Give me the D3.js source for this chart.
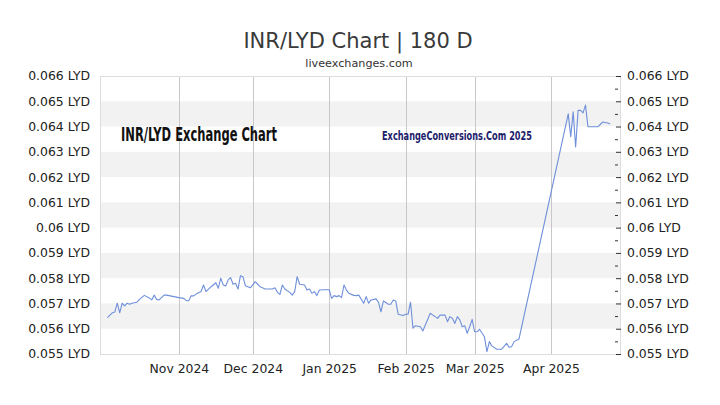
<!DOCTYPE html>
<html>
<head>
<meta charset="utf-8">
<script src="https://cdn.jsdelivr.net/npm/d3@7"></script>
<style>
    body { margin: 0; background: #fff; }
    svg { display: block; font-family: "DejaVu Sans", Verdana, sans-serif; }
</style>
</head>
<body>
<svg id="chart" width="720" height="405"></svg>
<script>
// INR/LYD daily rates
const dates = [
    "2024-10-03", "2024-10-05", "2024-10-06", "2024-10-07", "2024-10-08", "2024-10-09", "2024-10-10", "2024-10-11",
    "2024-10-12", "2024-10-13", "2024-10-15", "2024-10-16", "2024-10-18", "2024-10-20", "2024-10-21", "2024-10-22",
    "2024-10-23", "2024-10-24", "2024-10-26", "2024-10-27", "2024-10-28", "2024-10-30", "2024-11-01", "2024-11-03",
    "2024-11-04", "2024-11-05", "2024-11-06", "2024-11-07", "2024-11-08", "2024-11-10", "2024-11-11", "2024-11-12",
    "2024-11-14", "2024-11-15", "2024-11-16", "2024-11-17", "2024-11-18", "2024-11-19", "2024-11-20", "2024-11-21",
    "2024-11-22", "2024-11-23", "2024-11-24", "2024-11-25", "2024-11-26", "2024-11-27", "2024-11-28", "2024-11-30",
    "2024-12-02", "2024-12-03", "2024-12-04", "2024-12-06", "2024-12-07", "2024-12-09", "2024-12-10", "2024-12-11",
    "2024-12-12", "2024-12-13", "2024-12-14", "2024-12-16", "2024-12-17", "2024-12-18", "2024-12-19", "2024-12-20",
    "2024-12-22", "2024-12-23", "2024-12-24", "2024-12-25", "2024-12-26", "2024-12-27", "2024-12-28", "2024-12-30",
    "2025-01-01", "2025-01-02", "2025-01-03", "2025-01-04", "2025-01-05", "2025-01-06", "2025-01-07", "2025-01-08",
    "2025-01-09", "2025-01-11", "2025-01-12", "2025-01-13", "2025-01-15", "2025-01-16", "2025-01-17", "2025-01-18",
    "2025-01-20", "2025-01-21", "2025-01-22", "2025-01-23", "2025-01-25", "2025-01-26", "2025-01-27", "2025-01-28",
    "2025-01-29", "2025-01-31", "2025-02-01", "2025-02-02", "2025-02-03", "2025-02-04", "2025-02-05", "2025-02-07",
    "2025-02-08", "2025-02-11", "2025-02-12", "2025-02-13", "2025-02-14", "2025-02-15", "2025-02-17", "2025-02-18",
    "2025-02-19", "2025-02-20", "2025-02-21", "2025-02-22", "2025-02-23", "2025-02-24", "2025-02-25", "2025-02-26",
    "2025-02-27", "2025-02-28", "2025-03-01", "2025-03-02", "2025-03-03", "2025-03-05", "2025-03-06", "2025-03-07",
    "2025-03-08", "2025-03-10", "2025-03-12", "2025-03-14", "2025-03-15", "2025-03-16", "2025-03-17", "2025-03-19",
    "2025-04-08", "2025-04-09", "2025-04-10", "2025-04-11", "2025-04-12", "2025-04-13", "2025-04-14", "2025-04-15",
    "2025-04-16", "2025-04-18", "2025-04-20", "2025-04-22", "2025-04-24", "2025-04-25"
];

const rates = [
    0.05644, 0.05663, 0.05666, 0.05701, 0.05663, 0.05701, 0.05690, 0.05701,
    0.05697, 0.05701, 0.05705, 0.05716, 0.05732, 0.05722, 0.05714, 0.05733,
    0.05716, 0.05714, 0.05733, 0.05733, 0.05731, 0.05727, 0.05723, 0.05720,
    0.05711, 0.05711, 0.05730, 0.05730, 0.05737, 0.05747, 0.05773, 0.05747,
    0.05766, 0.05773, 0.05782, 0.05760, 0.05800, 0.05773, 0.05769, 0.05793,
    0.05802, 0.05776, 0.05780, 0.05757, 0.05810, 0.05806, 0.05770, 0.05762,
    0.05786, 0.05776, 0.05766, 0.05757, 0.05757, 0.05757, 0.05762, 0.05744,
    0.05736, 0.05773, 0.05757, 0.05744, 0.05733, 0.05747, 0.05806, 0.05776,
    0.05773, 0.05753, 0.05757, 0.05740, 0.05747, 0.05731, 0.05753, 0.05754,
    0.05754, 0.05720, 0.05731, 0.05727, 0.05731, 0.05723, 0.05773, 0.05753,
    0.05740, 0.05732, 0.05731, 0.05733, 0.05701, 0.05727, 0.05701, 0.05714,
    0.05718, 0.05705, 0.05667, 0.05710, 0.05697, 0.05697, 0.05714, 0.05710,
    0.05657, 0.05652, 0.05657, 0.05657, 0.05705, 0.05602, 0.05612, 0.05608,
    0.05591, 0.05661, 0.05654, 0.05648, 0.05641, 0.05654, 0.05654, 0.05628,
    0.05648, 0.05641, 0.05621, 0.05648, 0.05635, 0.05608, 0.05612, 0.05582,
    0.05608, 0.05637, 0.05588, 0.05588, 0.05598, 0.05568, 0.05509, 0.05549,
    0.05532, 0.05519, 0.05519, 0.05542, 0.05527, 0.05529, 0.05549, 0.05559,
    0.06450, 0.06360, 0.06458, 0.06319, 0.06464, 0.06464, 0.06454, 0.06485,
    0.06399, 0.06399, 0.06399, 0.06418, 0.06414, 0.06410
];

const yTickValues = [0.055, 0.056, 0.057, 0.058, 0.059, 0.060, 0.061, 0.062, 0.063, 0.064, 0.065, 0.066];
const shadedBands = [0.056, 0.058, 0.060, 0.062, 0.064]; // lower edge of each grey band
const monthTicks = ["2024-11-01", "2024-12-01", "2025-01-01", "2025-02-01", "2025-03-01", "2025-04-01"];
const xDomain = ["2024-09-30", "2025-04-29"];

const parseDate = d3.timeParse("%Y-%m-%d");
const points = dates.map((d, i) => ({ date: parseDate(d), rate: rates[i] }));

const svg = d3.select("#chart");
const plot = { left: 100, right: 620, top: 76, bottom: 354 };

const x = d3.scaleTime()
    .domain(xDomain.map(parseDate))
    .range([plot.left, plot.right]);

const y = d3.scaleLinear()
    .domain([0.055, 0.066])
    .range([plot.bottom, plot.top]);

const fmt = v => `${+v.toFixed(3)} LYD`;

// alternating grey bands
svg.append("g")
    .selectAll("rect")
    .data(shadedBands)
    .enter().append("rect")
    .attr("x", plot.left)
    .attr("width", plot.right - plot.left)
    .attr("y", d => y(d + 0.001))
    .attr("height", d => y(d) - y(d + 0.001))
    .attr("fill", "#f2f2f2");

// month grid lines
svg.append("g")
    .selectAll("line")
    .data(monthTicks.map(parseDate))
    .enter().append("line")
    .attr("x1", d => Math.round(x(d)) + 0.5)
    .attr("x2", d => Math.round(x(d)) + 0.5)
    .attr("y1", plot.top)
    .attr("y2", plot.bottom)
    .attr("stroke", "#c8c8c8");

// plot frame
svg.append("rect")
    .attr("x", plot.left + 0.5)
    .attr("y", plot.top + 0.5)
    .attr("width", plot.right - plot.left)
    .attr("height", plot.bottom - plot.top)
    .attr("fill", "none")
    .attr("stroke", "#dddddd");

// watermark texts
svg.append("text")
    .attr("x", 121)
    .attr("y", 141)
    .attr("font-family", "'DejaVu Sans Condensed', 'Liberation Sans Narrow', sans-serif")
    .attr("font-weight", "bold")
    .attr("font-size", 19.5)
    .attr("textLength", 156)
    .attr("lengthAdjust", "spacingAndGlyphs")
    .attr("fill", "#111")
    .text("INR/LYD Exchange Chart");

svg.append("text")
    .attr("x", 382)
    .attr("y", 140)
    .attr("font-family", "'DejaVu Sans Condensed', 'Liberation Sans Narrow', sans-serif")
    .attr("font-weight", "bold")
    .attr("font-size", 12.5)
    .attr("textLength", 150)
    .attr("lengthAdjust", "spacingAndGlyphs")
    .attr("fill", "#1c1c6b")
    .text("ExchangeConversions.Com 2025");

// rate line
const line = d3.line()
    .x(d => x(d.date))
    .y(d => y(d.rate));

svg.append("path")
    .datum(points)
    .attr("fill", "none")
    .attr("stroke", "#6f8fdb")
    .attr("stroke-width", 1.1)
    .attr("stroke-linejoin", "round")
    .attr("d", line);

// left axis: labels only
const leftAxis = svg.append("g")
    .attr("transform", `translate(${plot.left},0)`)
    .call(d3.axisLeft(y).tickValues(yTickValues).tickFormat(fmt).tickSize(0).tickPadding(10));
leftAxis.select(".domain").remove();

// right axis with major and minor ticks
const rightAxis = svg.append("g")
    .attr("transform", `translate(${plot.right - 4},0)`)
    .call(d3.axisRight(y).tickValues(yTickValues).tickFormat(fmt).tickSize(5).tickPadding(6));
rightAxis.select(".domain").remove();

const minorAxis = svg.append("g")
    .attr("transform", `translate(${plot.right - 5},0)`)
    .call(d3.axisRight(y).tickValues(yTickValues.slice(0, -1).map(v => v + 0.0005)).tickFormat("").tickSize(3));
minorAxis.select(".domain").remove();

// bottom axis: month labels
const bottomAxis = svg.append("g")
    .attr("transform", `translate(0,${plot.bottom})`)
    .call(d3.axisBottom(x).tickValues(monthTicks.map(parseDate)).tickFormat(d3.timeFormat("%b %Y")).tickSize(0).tickPadding(10));
bottomAxis.select(".domain").remove();

svg.selectAll(".tick text")
    .attr("font-family", "'DejaVu Sans', Verdana, sans-serif")
    .attr("font-size", 12.4)
    .attr("fill", "#222");
svg.selectAll(".tick line").attr("stroke", "#333");

// titles
svg.append("text")
    .attr("x", 358)
    .attr("y", 48)
    .attr("text-anchor", "middle")
    .attr("font-size", 21)
    .attr("fill", "#3a3a3a")
    .text("INR/LYD Chart | 180 D");

svg.append("text")
    .attr("x", 359)
    .attr("y", 67)
    .attr("text-anchor", "middle")
    .attr("font-size", 11.2)
    .attr("fill", "#333")
    .text("liveexchanges.com");
</script>
</body>
</html>
